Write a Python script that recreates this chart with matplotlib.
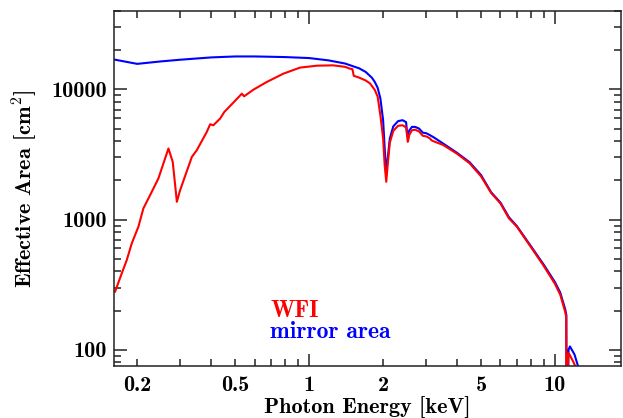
import matplotlib
matplotlib.use("Agg")
import matplotlib.pyplot as plt
from matplotlib.ticker import FixedLocator, FixedFormatter, NullFormatter

# ---- data ----
mirror_E = [0.16, 0.2, 0.25, 0.3, 0.4, 0.5, 0.6, 0.7, 0.8, 1.0, 1.2, 1.4, 1.6, 1.7,
            1.8, 1.85, 1.9, 1.95, 2.0, 2.03, 2.06, 2.09, 2.13, 2.2, 2.3, 2.4, 2.48,
            2.51, 2.55, 2.62, 2.7, 2.8, 2.87, 2.9, 3.0, 3.1, 3.2, 3.5, 4.0, 4.5, 5.0,
            5.5, 6.0, 6.5, 7.0, 8.0, 9.0, 10.0, 10.5, 11.0, 11.12, 11.14, 11.28,
            11.35, 11.5, 12.0, 12.4, 12.6]
mirror_A = [17000, 15700, 16400, 16900, 17600, 17900, 17900, 17800, 17700, 17400,
            16700, 15800, 14500, 13600, 12300, 11400, 10300, 8500, 5800, 3500, 2270,
            3000, 4200, 5200, 5700, 5800, 5600, 4400, 4800, 5150, 5150, 5000, 4750,
            4650, 4600, 4450, 4300, 3850, 3250, 2750, 2200, 1620, 1350, 1040, 890,
            620, 450, 330, 275, 205, 185, 50, 50, 100, 106, 92, 75, 60]

wfi_E = [0.1627, 0.1732, 0.1815, 0.1902, 0.2023, 0.212, 0.2258, 0.244, 0.268, 0.279,
         0.29, 0.299, 0.3337, 0.3495, 0.3838, 0.396, 0.408, 0.4346, 0.452, 0.492,
         0.533, 0.544, 0.594, 0.673, 0.786, 0.919, 1.075, 1.25, 1.4, 1.47, 1.5, 1.52,
         1.6, 1.7, 1.77, 1.85, 1.9, 1.95, 2.0, 2.03, 2.06, 2.09, 2.13, 2.2, 2.3, 2.4,
         2.48, 2.52, 2.56, 2.62, 2.7, 2.8, 2.87, 2.9, 3.0, 3.1, 3.15, 3.2, 3.5, 4.0,
         4.5, 5.0, 5.5, 6.0, 6.5, 7.0, 8.0, 9.0, 10.0, 10.5, 11.0, 11.1, 11.12, 11.26,
         11.33, 11.45, 11.9, 12.2, 12.4]
wfi_A = [280, 387, 490, 658, 881, 1219, 1542, 2070, 3515, 2775, 1368, 1683, 3027,
         3412, 4712, 5394, 5300, 5960, 6700, 7910, 9270, 8840, 9950, 11400, 13200,
         14700, 15200, 15300, 14900, 14400, 14300, 12700, 12300, 11700, 11100, 9900,
         8800, 6300, 4200, 2600, 1950, 2700, 3900, 4800, 5250, 5300, 5100, 3950, 4500,
         4850, 4900, 4750, 4500, 4400, 4350, 4200, 4060, 4000, 3750, 3200, 2700, 2150,
         1600, 1330, 1020, 880, 610, 440, 320, 265, 195, 180, 50, 50, 94, 92, 80, 72, 60]

x_ticks = [0.2, 0.5, 1, 2, 5, 10]
x_ticklabels = ["0.2", "0.5", "1", "2", "5", "10"]
y_ticks = [100, 1000, 10000]
y_ticklabels = ["100", "1000", "10000"]

plt.rcParams['mathtext.fontset'] = 'cm'
FONT = 'cmb10'
TICK_FS = 16
LABEL_FS = 16
LEG_FS = 17

fig = plt.figure(figsize=(6.23, 4.18), dpi=100)
ax = fig.add_axes([0.183, 0.1244, 0.8138, 0.8493])

ax.plot(mirror_E, mirror_A, color='#0000ff', lw=1.5)
ax.plot(wfi_E, wfi_A, color='#ff0000', lw=1.5)

ax.set_xscale('log')
ax.set_yscale('log')
ax.set_xlim(0.161, 18.55)
ax.set_ylim(75, 40000)

# x ticks
ax.xaxis.set_major_locator(FixedLocator([1, 10]))
minor_x = [m * d for d in (0.1, 1, 10) for m in range(2, 10)]
ax.xaxis.set_minor_locator(FixedLocator(minor_x))
ax.xaxis.set_major_formatter(NullFormatter())
ax.xaxis.set_minor_formatter(NullFormatter())
for xv, lab in zip(x_ticks, x_ticklabels):
    ax.text(xv, -0.028, lab, transform=ax.get_xaxis_transform(), ha='center',
            va='top', fontsize=TICK_FS, family=FONT)

# y ticks
ax.yaxis.set_major_locator(FixedLocator(y_ticks))
ax.yaxis.set_major_formatter(FixedFormatter(y_ticklabels))
minor_y = [m * d for d in (10, 100, 1000, 10000) for m in range(2, 10)]
ax.yaxis.set_minor_locator(FixedLocator(minor_y))
ax.yaxis.set_minor_formatter(NullFormatter())

ax.tick_params(which='both', direction='in', top=True, right=True, width=1.1,
               color='#222222')
ax.tick_params(which='major', length=9)
ax.tick_params(which='minor', length=4.8)
ax.tick_params(axis='y', which='major', pad=5, labelsize=TICK_FS)
for lab in ax.get_yticklabels():
    lab.set_family(FONT)

for sp in ax.spines.values():
    sp.set_linewidth(1.1)
    sp.set_color('#222222')

fig.text(0.589, 0.026, 'Photon Energy [keV]', fontsize=LABEL_FS, family=FONT,
         ha='center', va='center')
fig.text(0.040, 0.548, r'Effective Area [cm$^{\mathbf{2}}$]', fontsize=LABEL_FS,
         family=FONT, ha='center', va='center', rotation=90)

ax.text(0.308, 0.137, 'WFI', transform=ax.transAxes, color='#ff0000',
        fontsize=LEG_FS, family=FONT, va='baseline')
ax.text(0.308, 0.079, 'mirror area', transform=ax.transAxes, color='#0000ff',
        fontsize=LEG_FS, family=FONT, va='baseline')

fig.savefig('out.png', dpi=100)
